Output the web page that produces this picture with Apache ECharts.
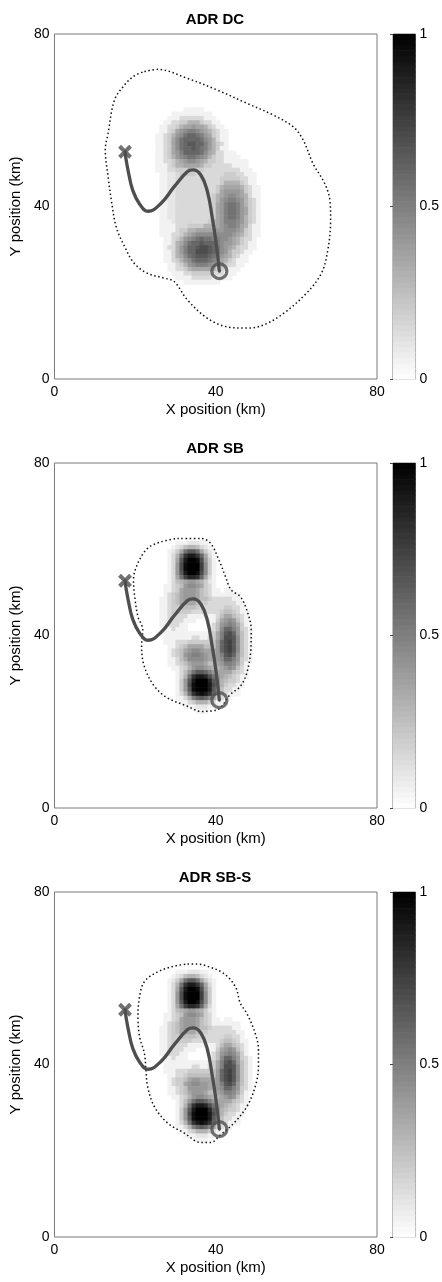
<!DOCTYPE html>
<html>
<head>
<meta charset="utf-8">
<script src="https://cdn.jsdelivr.net/npm/echarts@6/dist/echarts.min.js"></script>
<style>
  html, body { margin: 0; padding: 0; background: #ffffff; }
  #chart { width: 442px; height: 1282px; }
</style>
</head>
<body>
<div id="chart"></div>
<script>
// ---- panel titles and tick values ----
const panelTitles = ['ADR DC', 'ADR SB', 'ADR SB-S'];
const axisTickValues = [0, 40, 80];
const colorbarTickValues = [0, 0.5, 1];

// ---- source trajectory (km), shared by all panels ----
const trackX = [17.5, 17.8, 18.4, 19.4, 21.1, 23.2, 26.4, 29.7, 33.0, 34.4, 36.3, 37.9, 39.1, 40.0, 40.9];
const trackY = [52.7, 50.7, 47.7, 43.8, 40.6, 38.9, 40.7, 44.6, 48.1, 48.5, 47.3, 43.6, 37.6, 32.2, 25.0];
const startPoint = [17.5, 52.7];
const endPoint = [40.9, 25.0];

// ---- dotted outline of the nonzero region (km) ----
const contourDC = [
  [22.3, 71.3], [25.6, 71.8], [33.0, 69.7], [40.4, 67.0], [47.8, 63.9], [54.3, 61.2],
  [59.2, 58.5], [61.7, 55.4], [64.1, 50.0], [67.0, 45.4], [68.3, 41.5], [68.5, 36.9],
  [67.8, 29.9], [66.2, 24.5], [62.5, 19.9], [56.8, 15.2], [51.8, 12.5], [47.8, 11.8],
  [42.8, 12.1], [37.9, 14.1], [33.0, 18.3], [29.7, 22.6], [27.2, 23.4], [23.1, 24.5],
  [19.8, 26.8], [17.4, 30.7], [15.3, 35.3], [14.1, 41.5], [13.3, 46.9], [12.6, 53.1],
  [13.3, 57.0], [14.9, 64.7], [17.4, 68.2], [19.8, 70.3]
];
const contourSB = [
  [30.5, 62.5], [36.3, 62.5], [38.7, 61.4], [40.8, 57.5], [42.4, 53.7], [43.8, 50.6],
  [46.1, 49.0], [47.7, 45.9], [48.8, 41.3], [48.7, 36.7], [47.7, 31.3], [46.1, 28.2],
  [43.6, 26.3], [40.4, 22.8], [36.3, 22.4], [33.0, 23.6], [28.1, 25.5], [24.8, 28.2],
  [22.3, 32.8], [21.6, 37.5], [21.9, 41.3], [20.7, 44.4], [19.9, 49.0], [19.6, 52.9],
  [20.7, 56.8], [23.1, 60.2], [26.4, 61.7]
];
const contourSBS = [
  [33.0, 63.3], [35.4, 63.3], [37.9, 62.8], [42.0, 61.1], [44.9, 58.0], [46.1, 54.2],
  [47.7, 51.9], [49.8, 47.2], [50.6, 43.4], [50.6, 39.5], [49.8, 34.9], [47.7, 30.2],
  [44.5, 26.4], [41.2, 23.7], [38.7, 21.9], [36.3, 21.9], [32.2, 24.1], [28.1, 26.4],
  [24.8, 30.2], [23.1, 34.9], [22.7, 38.7], [22.3, 42.6], [21.1, 46.5], [20.7, 51.1],
  [21.1, 55.7], [22.3, 59.2], [25.6, 61.5], [29.7, 62.8]
];

// ---- normalised density on a 1 km grid ----
// One string per 1-km row, top row first; one base-36 digit per 1-km cell,
// density = digit / 20 (so 'k' = 1). Missing trailing cells are zero.
const densityDCOrigin = [23, 62];   // lower-left km corner of the first cell of the top row
const densityDC = [
  '00000000011111',
  '0000001111111111',
  '00000111333333111',
  '000011334466643311',
  '0001133467787764311',
  '0001134789aa98764311',
  '001134689bccba874311',
  '00113479bccccb986311',
  '00113479bcddcca86431',
  '00113479bccdcba86411',
  '00113478accccb97633111',
  '001134689abba9864331111',
  '0011334678998764433111111',
  '0011134667777644333331111',
  '00111334446444333333333111',
  '000112234444333333344433111',
  '000112233333333333444443311',
  '000112233333333333466664311',
  '0001122333333333346777764311',
  '0001122333333333347888874311',
  '0001122333333333467899876311',
  '00011223333333334689aa986431',
  '0001122333333333478abba86431',
  '0001122333333333478abba87431',
  '0001122333333333478abba87431',
  '0001122333333333478abba86431',
  '0001112333333334678aaa986431',
  '00011113334444666789aa976311',
  '0001111344667777788999874311',
  '0001113346789999999998764311',
  '00001134689abcbbaa998764331',
  '0000113679bccdccca988764311',
  '000013368accdeedcb987643311',
  '000011368acceeedcb98644311',
  '0000113679bcdddcba8764311',
  '00001134689bcccba87643111',
  '000001134689aaa987643311',
  '00000113346777776443111',
  '0000001113344444333111',
  '000000011113333311111',
  '000000000111111111'
];

const densitySBOrigin = [25, 61];
const densitySB = [
  '00000111222110',
  '00001235665321',
  '0001247bddb7421',
  '000136bgiigc731',
  '000137dikkje841',
  '000138ejkkkf941',
  '000138ejkkkf941',
  '000138dikkje941',
  '000137bfhhgc731',
  '000135678876421',
  '001134589987431',
  '0011347888754311011',
  '001345788875431111111',
  '011345788875543333311',
  '0113457777544333333311',
  '0113445555433333344331',
  '01134444433333334554311',
  '01133333111111135775431',
  '01133331110001147898531',
  '011333110000013589a9741',
  '00113111000001359cca8431',
  '0011111111111147adec8531',
  '0011111113311347aeed9531',
  '0011133344444458cefd9531',
  '0001134577775558cefd9531',
  '0001345789987778cefd9531',
  '000134589aa98778adec8531',
  '00011357999987789cca8431',
  '00011345788875578aa9741',
  '00001134689987667898531',
  '000001358bddca877775431',
  '00000136bgiiheb87654311',
  '00000148dikkkhd9654431',
  '00000148ejkkkie9643311',
  '00000148djkkkid953311',
  '00000136bgijigc743111',
  '000001136acdca74311',
  '000000113466643111',
  '0000000111222111',
  '0000000000111'
];

const densitySBSOrigin = [25, 61];
const densitySBS = [
  '00000111222110',
  '00001235665321',
  '0001247bddb7421',
  '000136bgiigc731',
  '000137dikkje841',
  '000138ejkkkf941',
  '000138ejkkkf941',
  '000138dikkje941',
  '000137bfhhgc731',
  '000135678876421',
  '001134589987431',
  '0011347888754311011',
  '001345788875431111111',
  '011345788875543333311',
  '0113457777544333333311',
  '0113445555433333344331',
  '01134444433333334554311',
  '01133333111111135775431',
  '01133331110001147898531',
  '011333110000013589a9741',
  '00113111000001359cca8431',
  '0011111111111147adec8531',
  '0011111113311347aeed9531',
  '0011133344444458cefd9531',
  '0001133455555558cefd9531',
  '0001344578877778cefd9531',
  '0001344789988778adec8531',
  '00011345888887789cca8431',
  '00011345788875578aa9741',
  '00001134689987667898531',
  '000001358bddca877775431',
  '00000136bgiiheb87654311',
  '00000148dikkkhd9654431',
  '00000148ejkkkie9643311',
  '00000148djkkkid953311',
  '00000136bgijigc743111',
  '000001136acdca74311',
  '000000113466643111',
  '0000000111222111',
  '0000000000111'
];

// ---- helpers ----
function gridCells(rows, origin) {
  const cells = [];
  rows.forEach(function (row, r) {
    for (let c = 0; c < row.length; c++) {
      const v = parseInt(row[c], 36) / 20;
      if (v > 0) cells.push([origin[0] + c, origin[1] - r, v]);
    }
  });
  return cells;
}
function zipXY(xs, ys) { return xs.map(function (x, i) { return [x, ys[i]]; }); }
function closeLoop(pts) { return pts.concat([pts[0]]); }

function renderCell(params, api) {
  const x = api.value(0), y = api.value(1);
  const a = api.coord([x, y + 1]);
  const b = api.coord([x + 1, y]);
  return {
    type: 'rect',
    shape: { x: a[0], y: a[1], width: b[0] - a[0] + 0.6, height: b[1] - a[1] + 0.6 },
    style: { fill: api.visual('color') }
  };
}
function renderBand(params, api) {
  const a = api.coord([0, api.value(1)]);
  const b = api.coord([1, api.value(0)]);
  return {
    type: 'rect',
    shape: { x: a[0], y: a[1], width: b[0] - a[0], height: b[1] - a[1] + 0.6 },
    style: { fill: api.visual('color') }
  };
}

// 64-step colour scale shown in each colour bar
const COLORBAR_STEPS = 64;
const colorbarBands = [];
for (let k = 0; k < COLORBAR_STEPS; k++) {
  colorbarBands.push([k / COLORBAR_STEPS, (k + 1) / COLORBAR_STEPS, (k + 0.5) / COLORBAR_STEPS]);
}

const panels = [
  { cells: gridCells(densityDC, densityDCOrigin), contour: contourDC },
  { cells: gridCells(densitySB, densitySBOrigin), contour: contourSB },
  { cells: gridCells(densitySBS, densitySBSOrigin), contour: contourSBS }
];

// ---- layout ----
const FONT = '"Liberation Sans", Arial, Helvetica, sans-serif';
const PLOT_LEFT = 53, PLOT_W = 324, PLOT_H = 345;
const BAR_LEFT = 393, BAR_W = 23;
const PANEL_TOPS = [34, 463, 892];
const LINE_GREY = '#4e4e4e';

const grids = [], xAxes = [], yAxes = [], series = [], titles = [], heatIdx = [];

PANEL_TOPS.forEach(function (top, k) {
  grids.push({ left: PLOT_LEFT, top: top, width: PLOT_W, height: PLOT_H,
    show: true, borderColor: '#7a7a7a', borderWidth: 1, backgroundColor: '#ffffff' });
  grids.push({ left: BAR_LEFT, top: top, width: BAR_W, height: PLOT_H,
    show: true, borderColor: '#7a7a7a', borderWidth: 1, backgroundColor: '#ffffff' });
  const gMain = 2 * k, gBar = 2 * k + 1;

  xAxes.push({
    gridIndex: gMain, type: 'value', min: axisTickValues[0], max: axisTickValues[2],
    interval: axisTickValues[1] - axisTickValues[0],
    axisLine: { show: false }, axisTick: { show: false }, splitLine: { show: false },
    axisLabel: { color: '#000', fontSize: 14, fontFamily: FONT, margin: 6, showMinLabel: true, showMaxLabel: true },
    name: 'X position (km)', nameLocation: 'middle', nameGap: 23,
    nameTextStyle: { color: '#000', fontSize: 15, fontFamily: FONT }
  });
  yAxes.push({
    gridIndex: gMain, type: 'value', min: axisTickValues[0], max: axisTickValues[2],
    interval: axisTickValues[1] - axisTickValues[0],
    axisLine: { show: false }, axisTick: { show: false }, splitLine: { show: false },
    axisLabel: { color: '#000', fontSize: 14, fontFamily: FONT, margin: 5, showMinLabel: true, showMaxLabel: true },
    name: 'Y position (km)', nameLocation: 'middle', nameGap: 27, nameRotate: 90,
    nameTextStyle: { color: '#000', fontSize: 15, fontFamily: FONT }
  });
  xAxes.push({ gridIndex: gBar, type: 'value', min: 0, max: 1, show: false });
  yAxes.push({
    gridIndex: gBar, type: 'value', position: 'right',
    min: colorbarTickValues[0], max: colorbarTickValues[2],
    interval: colorbarTickValues[1] - colorbarTickValues[0],
    axisLine: { show: false }, splitLine: { show: false },
    axisTick: { show: true, inside: true, length: 3, lineStyle: { color: '#444' } },
    axisLabel: { color: '#000', fontSize: 14, fontFamily: FONT, margin: 4,
      showMinLabel: true, showMaxLabel: true, formatter: function (v) { return String(v); } }
  });
  const xMain = xAxes.length - 2, yMain = yAxes.length - 2;
  const xBar = xAxes.length - 1, yBar = yAxes.length - 1;

  heatIdx.push(series.length);
  series.push({
    type: 'custom', name: panelTitles[k] + ' density', xAxisIndex: xMain, yAxisIndex: yMain,
    renderItem: renderCell, data: panels[k].cells, encode: { x: 0, y: 1 }, silent: true, z: 1
  });
  series.push({
    type: 'line', xAxisIndex: xMain, yAxisIndex: yMain, data: closeLoop(panels[k].contour),
    smooth: 0.35, symbol: 'none', silent: true, z: 2,
    lineStyle: { color: '#111111', width: 1.5, type: [1.5, 2.6] }
  });
  series.push({
    type: 'line', xAxisIndex: xMain, yAxisIndex: yMain, data: zipXY(trackX, trackY),
    smooth: 0.45, symbol: 'none', silent: true, z: 3,
    lineStyle: { color: LINE_GREY, width: 3.3, cap: 'round' }
  });
  series.push({
    type: 'scatter', xAxisIndex: xMain, yAxisIndex: yMain, data: [startPoint],
    symbol: 'path://M0,0L10,10M10,0L0,10', symbolSize: 11, silent: true, z: 4,
    itemStyle: { color: 'rgba(0,0,0,0)', borderColor: LINE_GREY, borderWidth: 4 }
  });
  series.push({
    type: 'scatter', xAxisIndex: xMain, yAxisIndex: yMain, data: [endPoint],
    symbol: 'circle', symbolSize: 15, silent: true, z: 4,
    itemStyle: { color: 'rgba(0,0,0,0)', borderColor: LINE_GREY, borderWidth: 3.2 }
  });
  heatIdx.push(series.length);
  series.push({
    type: 'custom', xAxisIndex: xBar, yAxisIndex: yBar, renderItem: renderBand,
    data: colorbarBands, encode: { x: 0, y: [0, 1] }, silent: true, z: 1
  });

  titles.push({
    text: panelTitles[k], left: PLOT_LEFT + PLOT_W / 2, top: top - 22, textAlign: 'center', padding: 0,
    textStyle: { fontSize: 15, fontWeight: 'bold', color: '#000', fontFamily: FONT }
  });
});

const chart = echarts.init(document.getElementById('chart'), null, { renderer: 'canvas' });
chart.setOption({
  animation: false,
  backgroundColor: '#ffffff',
  title: titles,
  grid: grids,
  xAxis: xAxes,
  yAxis: yAxes,
  visualMap: {
    type: 'continuous', show: false, min: 0, max: 1, dimension: 2,
    seriesIndex: heatIdx, inRange: { color: ['#ffffff', '#000000'] }
  },
  series: series
});
</script>
</body>
</html>
